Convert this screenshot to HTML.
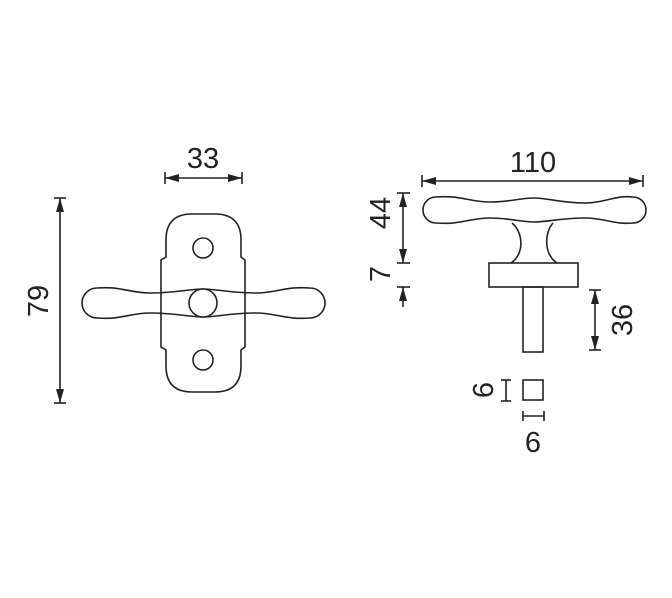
<!DOCTYPE html>
<html><head><style>html,body{margin:0;padding:0;background:#fff}svg{display:block}</style></head>
<body>
<svg width="672" height="598" viewBox="0 0 672 598" xmlns="http://www.w3.org/2000/svg">
<defs>
<marker id="a" viewBox="0 0 14 8" refX="14" refY="4" markerWidth="14" markerHeight="8" markerUnits="userSpaceOnUse" orient="auto-start-reverse"><path d="M0,0 L14,4 L0,8Z" fill="#222"/></marker>
</defs>
<g fill="none" stroke="#222" stroke-width="1.6">
<path d="M166,257 L166,240 Q166,214 192,214 L215,214 Q241,214 241,240 L241,257 L245,260 L245,347 L241,350 L241,366 Q241,392 215,392 L192,392 Q166,392 166,366 L166,350 L161,347 L161,260 Z"/>
<circle cx="203" cy="248" r="10"/>
<circle cx="203" cy="360" r="10"/>
<path d="M97,288 C120,286 130,293 150,293 C175,293 190,289 203,289 C216,289 231,293 256,293 C276,293 286,286 310,288 A15,15 0 0 1 310,318 C286,320 276,313 256,313 C231,313 216,317 203,317 C190,317 175,313 150,313 C130,313 120,320 97,318 A15,15 0 0 1 97,288Z"/>
<circle cx="203" cy="303" r="14" fill="#fff"/>
<line x1="60" y1="198" x2="60" y2="403" marker-start="url(#a)" marker-end="url(#a)"/>
<line x1="54" y1="198" x2="66" y2="198"/><line x1="54" y1="403" x2="66" y2="403"/>
<line x1="165" y1="178" x2="242" y2="178" marker-start="url(#a)" marker-end="url(#a)"/>
<line x1="165" y1="172" x2="165" y2="184"/><line x1="242" y1="172" x2="242" y2="184"/>
<path d="M436,197 C460,195 470,202 490,202 C510,202 520,198 534,198 C548,198 560,203 585,203 C605,203 615,195 633,197 A13,13 0 0 1 633,223 C615,225 605,218 585,218 C560,218 548,222 534,222 C520,222 510,218 490,218 C470,218 460,225 436,223 A13,13 0 0 1 436,197Z"/>
<path d="M512,223 C524,233 524,255 511,263 M553,223 C544,233 544,255 557,263"/>
<rect x="489" y="263" width="89" height="24"/>
<rect x="523" y="287" width="20" height="65"/>
<rect x="523" y="380" width="20" height="20"/>
<line x1="422" y1="181" x2="643" y2="181" marker-start="url(#a)" marker-end="url(#a)"/>
<line x1="422" y1="175" x2="422" y2="187"/><line x1="643" y1="175" x2="643" y2="187"/>
<line x1="403" y1="193" x2="403" y2="263" marker-start="url(#a)" marker-end="url(#a)"/>
<line x1="403" y1="287" x2="403" y2="307" marker-start="url(#a)"/>
<line x1="397" y1="193" x2="410" y2="193"/><line x1="397" y1="263" x2="410" y2="263"/><line x1="397" y1="287" x2="410" y2="287"/>
<line x1="595" y1="290" x2="595" y2="350" marker-start="url(#a)" marker-end="url(#a)"/>
<line x1="589" y1="290" x2="601" y2="290"/><line x1="589" y1="350" x2="601" y2="350"/>
<line x1="506" y1="380" x2="506" y2="401"/><line x1="501" y1="380" x2="511" y2="380"/><line x1="501" y1="401" x2="511" y2="401"/>
<line x1="523" y1="416" x2="544" y2="416"/><line x1="523" y1="411" x2="523" y2="421"/><line x1="544" y1="411" x2="544" y2="421"/>
</g>
<g font-family="Liberation Sans, sans-serif" font-size="29" fill="#222" text-anchor="middle">
<text x="203" y="168">33</text>
<text x="533" y="172">110</text>
<text transform="translate(48,301) rotate(-90)">79</text>
<text transform="translate(390,213) rotate(-90)">44</text>
<text transform="translate(390,274) rotate(-90)">7</text>
<text transform="translate(632,320) rotate(-90)">36</text>
<text transform="translate(493,390) rotate(-90)">6</text>
<text x="533" y="452">6</text>
</g>
</svg>
</body></html>
